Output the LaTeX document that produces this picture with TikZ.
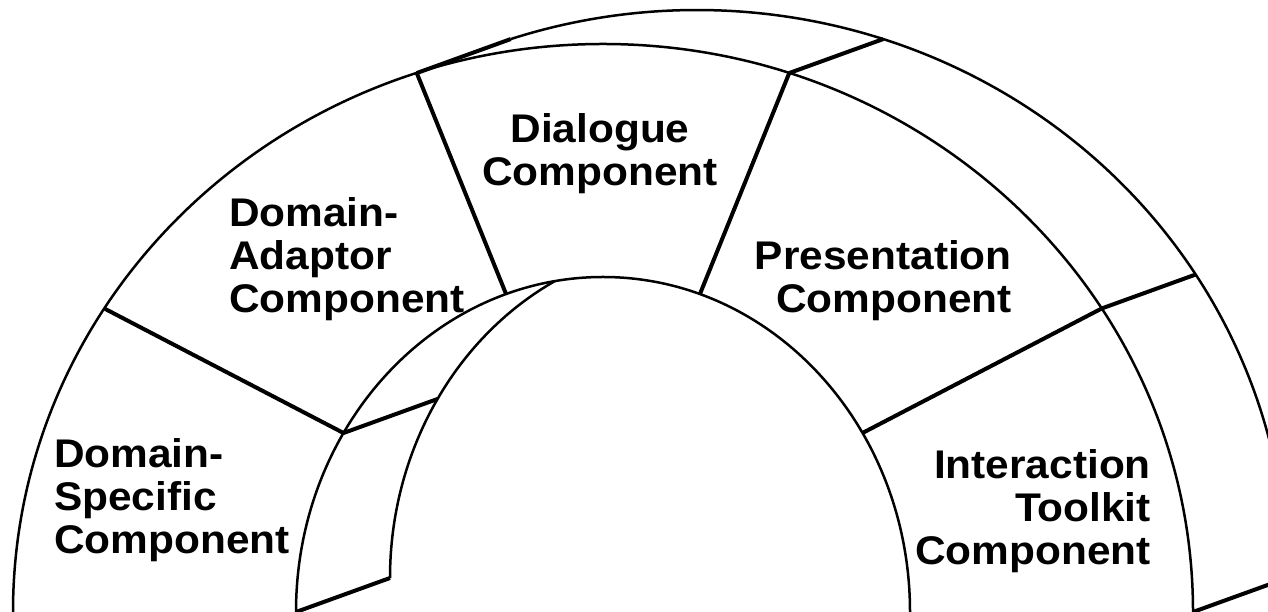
\documentclass[tikz,border=0pt]{standalone}
\usepackage{fontspec}
\setmainfont{Liberation Sans}
\newfontfamily\lblfont[FakeStretch=1.06]{Liberation Sans}
\usetikzlibrary{calc}
\begin{document}
\begin{tikzpicture}[x=1pt,y=1pt,
  arcline/.style={line width=2.5pt},
  divline/.style={line width=4pt},
  lbl/.style={font=\lblfont\bfseries\fontsize{40}{43}\selectfont, inner sep=0pt}]
\useasboundingbox (0,0) rectangle (1268,612);
\clip (0,0) rectangle (1268,612);
\coordinate (F) at (603,0);
\coordinate (B) at (697,34);
\foreach \n/\t in {0/0, 1/32.3, 2/71.6, 3/108.4, 4/147.7, 5/180}{
  \coordinate (fo\n) at ($(F)+(\t:590pt and 568pt)$);
  \coordinate (fi\n) at ($(F)+(\t:307pt and 335pt)$);
  \coordinate (bo\n) at ($(B)+(\t:590pt and 568pt)$);
  \coordinate (bi\n) at ($(B)+(\t:307pt and 335pt)$);
}
\coordinate (bx) at ($(B)+(117.6:307pt and 335pt)$);
% front face
\draw[arcline] (fo5) arc[start angle=180, end angle=0, x radius=590pt, y radius=568pt];
\draw[arcline] (fi5) arc[start angle=180, end angle=0, x radius=307pt, y radius=335pt];
% back face (visible parts)
\draw[arcline] (bo3) arc[start angle=108.4, end angle=0, x radius=590pt, y radius=568pt];
\draw[arcline] (bx) arc[start angle=117.6, end angle=180, x radius=307pt, y radius=335pt];
% dividers
\foreach \n in {1,2,3,4} \draw[divline] (fo\n) -- (fi\n);
% depth connectors
\foreach \n in {0,1,2,3} \draw[divline] (fo\n) -- (bo\n);
\draw[divline] (fi4) -- (bi4);
\draw[divline] (fi5) -- (bi5);
% labels
\node[lbl, align=center, anchor=north] (dlg) at (600,499) {Dialogue\\Component};
\node[lbl, align=left, anchor=north west] (dad) at (229,415) {Domain-\\Adaptor\\Component};
\node[lbl, align=right, anchor=north east] (pre) at (1012,372) {Presentation\\Component};
\node[lbl, align=left, anchor=north west] (dsp) at (54,174) {Domain-\\Specific\\Component};
\node[lbl, align=right, anchor=north east] (itk) at (1151,163) {Interaction\\Toolkit\\Component};
\end{tikzpicture}
\end{document}
